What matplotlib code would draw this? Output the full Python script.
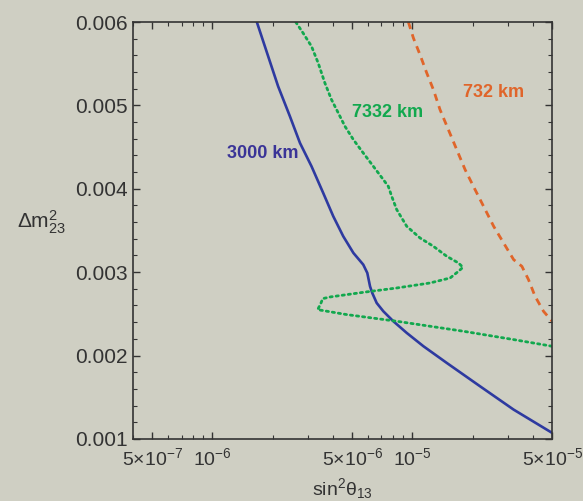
"""
Sensitivity contours in the (sin^2 theta13, dm^2_23) plane for three baselines.
"""

import matplotlib
matplotlib.use("Agg")
import matplotlib.pyplot as plt
from matplotlib.ticker import FixedLocator, NullFormatter, MultipleLocator

plt.rcParams["font.family"] = ["Liberation Sans", "DejaVu Sans"]
plt.rcParams["mathtext.fontset"] = "custom"
plt.rcParams["mathtext.rm"] = "Liberation Sans"
plt.rcParams["mathtext.it"] = "Liberation Sans:italic"
plt.rcParams["mathtext.default"] = "regular"

BG = "#cfcfc3"
INK = "#333333"

# ── data ──
x_3000 = [1.667e-6, 1.90e-6, 2.13e-6, 2.44e-6, 2.74e-6, 3.13e-6, 3.58e-6, 4.02e-6,
          4.51e-6, 5.07e-6, 5.68e-6, 5.95e-6, 6.14e-6, 6.30e-6, 6.63e-6, 7.16e-6,
          8.03e-6, 9.37e-6, 1.136e-5, 1.486e-5, 2.18e-5, 3.21e-5, 5.0e-5]
y_3000 = [0.0060, 0.005588, 0.005229, 0.004869, 0.004549, 0.004269, 0.003950, 0.003670,
          0.003430, 0.003230, 0.003090, 0.002990, 0.002830, 0.002750, 0.002630, 0.002530,
          0.002411, 0.002271, 0.002111, 0.001911, 0.001631, 0.001351, 0.001072]

x_7332 = [2.61e-6, 2.84e-6, 3.13e-6, 3.38e-6, 3.65e-6, 3.94e-6, 4.26e-6, 4.60e-6,
          5.07e-6, 5.68e-6, 6.38e-6, 7.16e-6, 7.58e-6, 7.88e-6, 8.35e-6, 9.37e-6,
          1.092e-5, 1.274e-5, 1.486e-5, 1.70e-5, 1.79e-5, 1.70e-5, 1.545e-5, 1.225e-5,
          8.35e-6, 5.68e-6, 3.87e-6, 3.56e-6, 3.49e-6, 3.36e-6, 4.69e-6, 8.35e-6,
          1.80e-5, 3.21e-5, 5.0e-5]
y_7332 = [0.0060, 0.005868, 0.005708, 0.005508, 0.005269, 0.005069, 0.004909, 0.004749,
          0.004589, 0.004429, 0.004269, 0.004109, 0.004029, 0.003910, 0.003750, 0.003550,
          0.003410, 0.003310, 0.003190, 0.003110, 0.003058, 0.003010, 0.002930, 0.002870,
          0.002810, 0.002758, 0.002702, 0.002682, 0.002630, 0.002550, 0.002491, 0.002411,
          0.002291, 0.002191, 0.002111]

x_732 = [9.55e-6, 1.012e-5, 1.092e-5, 1.18e-5, 1.274e-5, 1.375e-5, 1.514e-5, 1.667e-5,
         1.836e-5, 2.02e-5, 2.27e-5, 2.55e-5, 2.86e-5, 3.21e-5, 3.53e-5, 3.81e-5,
         4.11e-5, 4.53e-5, 5.0e-5]
y_732 = [0.0060, 0.005808, 0.005608, 0.005389, 0.005189, 0.004949, 0.004709, 0.004469,
         0.004229, 0.004029, 0.003790, 0.003550, 0.003350, 0.003150, 0.003070, 0.002910,
         0.002710, 0.002530, 0.002411]

x_ticks = [5e-7, 1e-6, 5e-6, 1e-5, 5e-5]
x_ticklabels = [r"$5{\times}10^{-7}$", r"$10^{-6}$", r"$5{\times}10^{-6}$",
                r"$10^{-5}$", r"$5{\times}10^{-5}$"]
y_ticks = [0.001, 0.002, 0.003, 0.004, 0.005, 0.006]
y_ticklabels = ["0.001", "0.002", "0.003", "0.004", "0.005", "0.006"]

fig = plt.figure(figsize=(5.83, 5.01), dpi=100, facecolor=BG)
ax = fig.add_axes([0.228, 0.124, 0.719, 0.832], facecolor=BG)

ax.plot(x_3000, y_3000, color="#2e3aa0", linewidth=1.9)
ax.plot(x_7332, y_7332, color="#12a84e", linewidth=2.0,
        linestyle=(0, (0.8, 1.4)), dash_capstyle="round")
ax.plot(x_732, y_732, color="#e0652a", linewidth=2.0,
        linestyle=(0, (2.6, 2.0)))

ax.text(1.78e-6, 0.00442, "3000 km", color="#3a3497", fontsize=13,
        fontweight="bold", ha="center", va="center")
ax.text(7.5e-6, 0.00491, "7332 km", color="#12a84e", fontsize=13,
        fontweight="bold", ha="center", va="center")
ax.text(2.55e-5, 0.00515, "732 km", color="#e0652a", fontsize=13,
        fontweight="bold", ha="center", va="center")

ax.set_xscale("log")
ax.set_xlim(4e-7, 5e-5)
ax.set_ylim(0.001, 0.006)

minor_x = [m * 10.0 ** e for e in (-7, -6, -5) for m in range(2, 10)]
ax.xaxis.set_major_locator(FixedLocator(x_ticks))
ax.xaxis.set_minor_locator(FixedLocator(minor_x))
ax.set_xticklabels(x_ticklabels)
ax.xaxis.set_minor_formatter(NullFormatter())
ax.set_yticks(y_ticks)
ax.set_yticklabels(y_ticklabels)
ax.yaxis.set_minor_locator(MultipleLocator(0.0002))

ax.tick_params(which="both", direction="in", top=True, right=True,
               color=INK, labelcolor=INK, labelsize=15)
ax.tick_params(axis="x", labelsize=14)
ax.tick_params(which="major", length=5, width=1)
ax.tick_params(which="minor", length=3, width=0.8)
ax.tick_params(axis="x", pad=6)
ax.tick_params(axis="y", pad=4)
for sp in ax.spines.values():
    sp.set_color(INK)
    sp.set_linewidth(1.2)

ax.set_xlabel(r"$sin^2\theta_{13}$", fontsize=14, color=INK, va="top")
ax.xaxis.set_label_coords(0.5, -0.09)
ax.set_ylabel(r"$\Delta m^2_{23}$", fontsize=15, color=INK, rotation=0,
              ha="right", va="center")
ax.yaxis.set_label_coords(-0.16, 0.52)

plt.savefig("out.png", dpi=100, facecolor=BG)
plt.close()
